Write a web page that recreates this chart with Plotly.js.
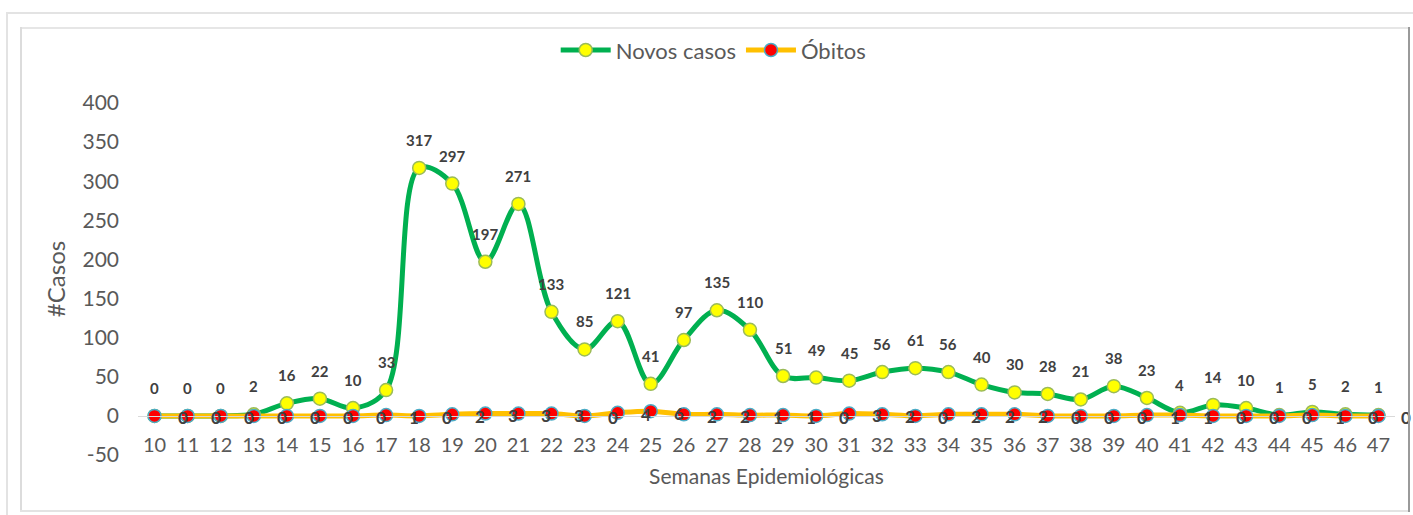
<!DOCTYPE html>
<html>
<head>
<meta charset="utf-8">
<script src="https://cdn.plot.ly/plotly-3.0.1.min.js"></script>
<style>
  html, body { margin: 0; padding: 0; background: #fff; }
  #wrap { position: relative; width: 1413px; height: 515px; overflow: hidden; }
  #chart { position: absolute; left: 0; top: 0; width: 1413px; height: 515px; }
  .fr { position: absolute; pointer-events: none; }
</style>
</head>
<body>
<div id="wrap">
  <div id="chart"></div>
  <div class="fr" style="left:6px;top:12px;width:1407px;height:0;border-top:2px solid #e3e3e3;"></div>
  <div class="fr" style="left:6px;top:12px;width:0;height:503px;border-left:2px solid #e3e3e3;"></div>
  <div class="fr" style="left:20px;top:27px;width:1389px;height:0;border-top:2px solid #e6e6e6;"></div>
  <div class="fr" style="left:20px;top:27px;width:0;height:485px;border-left:2px solid #dcdcdc;"></div>
  <div class="fr" style="left:20px;top:510px;width:1389px;height:0;border-top:2px solid #e3e3e3;"></div>
  <div class="fr" style="left:1408px;top:27px;width:0;height:485px;border-left:2px solid #9a9a9a;"></div>
</div>
<script>
const weeks = [10,11,12,13,14,15,16,17,18,19,20,21,22,23,24,25,26,27,28,29,30,31,32,33,34,35,36,37,38,39,40,41,42,43,44,45,46,47];
const novosCasos = [0,0,0,2,16,22,10,33,317,297,197,271,133,85,121,41,97,135,110,51,49,45,56,61,56,40,30,28,21,38,23,4,14,10,1,5,2,1];
const obitos = [0,0,0,0,0,0,0,1,0,2,3,3,3,0,4,6,2,2,1,1,0,3,2,0,2,2,2,0,0,0,1,1,0,0,0,1,0,0];
const yTicks = [-50,0,50,100,150,200,250,300,350,400];
const yRange = [-50, 400];

const FONT = 'Lato, "Open Sans", sans-serif';

const traceCasos = {
  x: weeks, y: novosCasos, name: 'Novos casos', type: 'scatter', mode: 'lines+markers',
  line: {color: '#00B050', width: 5, shape: 'spline', smoothing: 1},
  marker: {color: '#FFFF00', size: 13, line: {color: '#9BBB59', width: 1.5}},
  cliponaxis: false
};
const traceObitos = {
  x: weeks, y: obitos, name: 'Óbitos', type: 'scatter', mode: 'lines+markers',
  line: {color: '#FFC000', width: 5, shape: 'spline', smoothing: 1},
  marker: {color: '#FF0000', size: 13, line: {color: '#4BACC6', width: 1.5}},
  cliponaxis: false
};

const annotations = [];
weeks.forEach((w, i) => {
  annotations.push({x: w, y: novosCasos[i], text: String(novosCasos[i]), showarrow: false,
    yshift: 28, font: {family: FONT, size: 15, color: '#404040', weight: 'bold'}});
  annotations.push({x: w, y: obitos[i], text: String(obitos[i]), showarrow: false,
    xshift: 28, yshift: -2, font: {family: FONT, size: 17, color: '#404040', weight: 'bold'}});
});

const layout = {
  width: 1413, height: 515,
  margin: {l: 138, r: 18, t: 103, b: 60},
  paper_bgcolor: '#ffffff', plot_bgcolor: '#ffffff',
  font: {family: FONT, color: '#595959'},
  showlegend: true,
  legend: {orientation: 'h', x: 0.458, xanchor: 'center', y: 1.15, yanchor: 'middle',
    font: {family: FONT, size: 22, color: '#595959'}, itemwidth: 50, traceorder: 'normal'},
  xaxis: {
    range: [9.5, 47.5], tickmode: 'array', tickvals: weeks, ticktext: weeks.map(String),
    showgrid: false, zeroline: false, showline: true, linecolor: '#D9D9D9', linewidth: 1.5,
    anchor: 'free', position: (0 - yRange[0]) / (yRange[1] - yRange[0]),
    ticks: '', ticklabelstandoff: 11,
    tickfont: {family: FONT, size: 20, color: '#595959'},
    title: {text: 'Semanas Epidemiológicas', standoff: 14, font: {family: FONT, size: 21, color: '#595959'}}
  },
  yaxis: {
    range: yRange, tickmode: 'array', tickvals: yTicks, ticktext: yTicks.map(String),
    showgrid: false, zeroline: false, showline: false, ticks: '', ticklabelstandoff: 18,
    tickfont: {family: FONT, size: 21, color: '#595959'},
    title: {text: '#Casos', standoff: 10, font: {family: FONT, size: 24, color: '#595959'}}
  },
  annotations: annotations
};

Plotly.newPlot('chart', [traceCasos, traceObitos], layout, {displayModeBar: false, staticPlot: true});
</script>
</body>
</html>
